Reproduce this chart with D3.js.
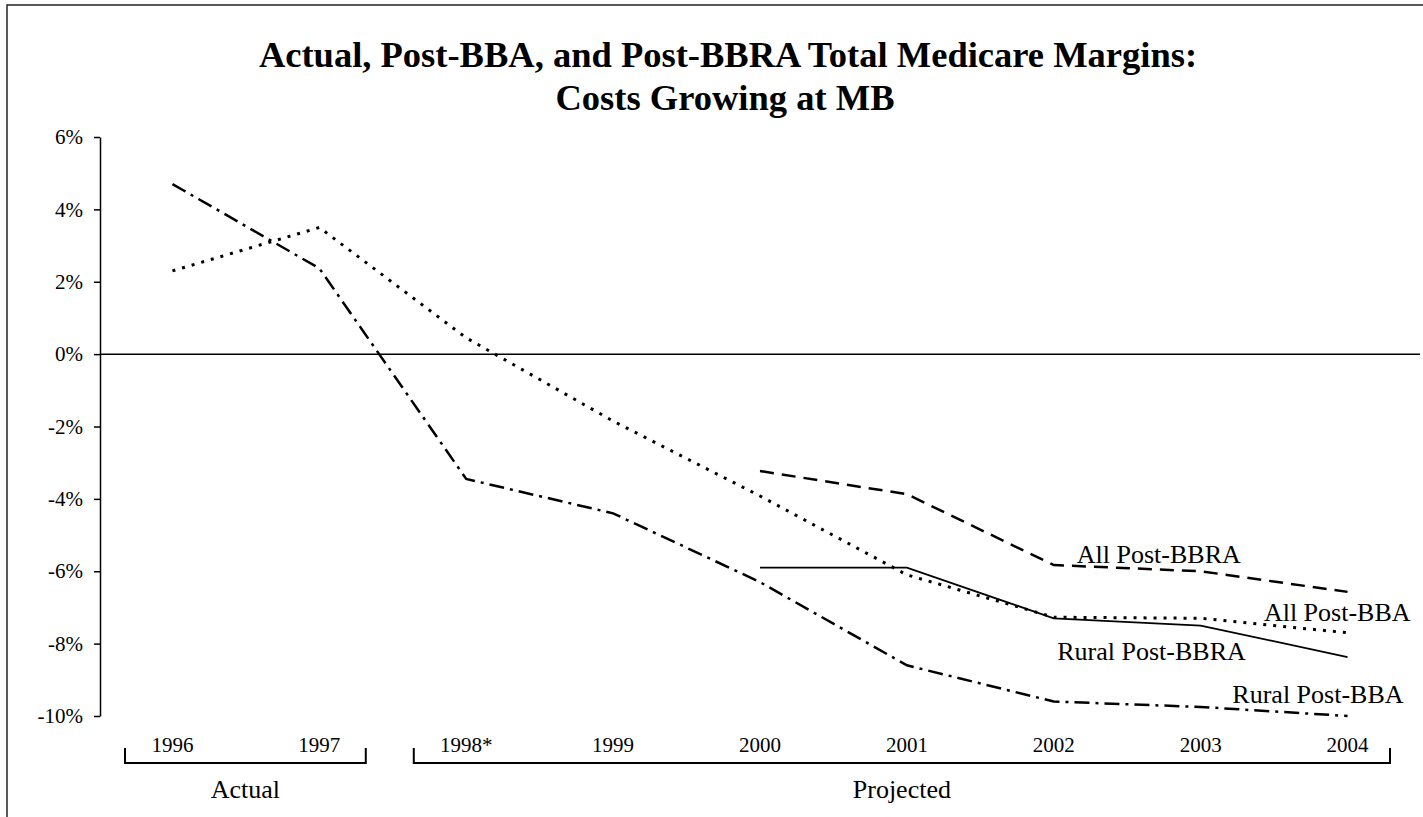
<!DOCTYPE html>
<html>
<head>
<meta charset="utf-8">
<script src="https://cdn.jsdelivr.net/npm/d3@7"></script>
<style>
  body { margin: 0; background: #fff; }
  svg { display: block; font-family: "Liberation Serif", "Times New Roman", serif; }
  .axis text { font-family: "Liberation Serif", "Times New Roman", serif; font-size: 21px; fill: #000; }
  .axis path, .axis line { stroke: #000; stroke-width: 1.5px; }
  .series { fill: none; stroke: #000; }
  .lbl { font-size: 26px; fill: #000; }
</style>
</head>
<body>
<svg id="chart" width="1423" height="817"></svg>
<script>
// years on the category axis
var years = ["1996", "1997", "1998*", "1999", "2000", "2001", "2002", "2003", "2004"];

// margins in percent
var ruralPostBBA  = [4.7, 2.37, -3.45, -4.4, -6.3, -8.6, -9.6, -9.75, -10.0];
var allPostBBA    = [2.3, 3.5, 0.45, -1.85, -3.92, -6.1, -7.27, -7.3, -7.7];
var allPostBBRA   = [null, null, null, null, -3.23, -3.87, -5.83, -6.0, -6.57];
var ruralPostBBRA = [null, null, null, null, -5.9, -5.9, -7.3, -7.5, -8.37];

var yTicks = [6, 4, 2, 0, -2, -4, -6, -8, -10];

var svg = d3.select("#chart");

// outer frame (right and bottom edges fall off the page)
svg.append("rect")
    .attr("x", 7).attr("y", 5)
    .attr("width", 1440).attr("height", 840)
    .attr("fill", "none").attr("stroke", "#222").attr("stroke-width", 1.5);

svg.append("text")
    .attr("x", 728).attr("y", 67)
    .attr("text-anchor", "middle")
    .style("font-size", "36.5px").style("font-weight", "bold")
    .text("Actual, Post-BBA, and Post-BBRA Total Medicare Margins:");
svg.append("text")
    .attr("x", 725).attr("y", 110)
    .attr("text-anchor", "middle")
    .style("font-size", "36.5px").style("font-weight", "bold")
    .text("Costs Growing at MB");

var x = d3.scaleBand().domain(years).range([99, 1421]);
var y = d3.scaleLinear().domain([-10, 6]).range([716, 137]);
var xc = function(d) { return x(d) + x.bandwidth() / 2; };

// y axis
svg.append("g")
    .attr("class", "axis")
    .attr("transform", "translate(100,0)")
    .call(d3.axisLeft(y).tickValues(yTicks).tickSize(6).tickSizeOuter(0).tickPadding(11)
      .tickFormat(function(d) { return d + "%"; }));

// zero line
svg.append("line")
    .attr("x1", 100).attr("x2", 1420)
    .attr("y1", y(0)).attr("y2", y(0))
    .attr("stroke", "#000").attr("stroke-width", 1.5);

// year labels
var xa = svg.append("g")
    .attr("class", "axis")
    .attr("transform", "translate(0,752)")
    .call(d3.axisBottom(x).tickSize(0));
xa.select(".domain").remove();
xa.selectAll("text").attr("y", 0).attr("dy", null);

// actual / projected brackets
var groups = [
  {label: "Actual", first: "1996", last: "1997", padL: 26, padR: 27},
  {label: "Projected", first: "1998*", last: "2004", padL: 21, padR: 31}
];
groups.forEach(function(g) {
  var x0 = x(g.first) + g.padL, x1 = x(g.last) + x.bandwidth() - g.padR;
  svg.append("path")
      .attr("d", "M" + x0 + ",748V763H" + x1 + "V748")
      .attr("fill", "none").attr("stroke", "#000").attr("stroke-width", 2);
  svg.append("text")
      .attr("class", "lbl")
      .attr("x", (x0 + x1) / 2).attr("y", 798)
      .attr("text-anchor", "middle")
      .text(g.label);
});

var line = d3.line()
    .defined(function(d) { return d != null; })
    .x(function(d, i) { return xc(years[i]); })
    .y(function(d) { return y(d); });

var series = [
  {values: ruralPostBBA, dash: "15,6,3,6", w: 2.5},
  {values: allPostBBA, dash: "3,7", w: 3},
  {values: allPostBBRA, dash: "14,8", w: 2.5},
  {values: ruralPostBBRA, dash: null, w: 1.8}
];

svg.selectAll(".series")
    .data(series)
  .enter().append("path")
    .attr("class", "series")
    .attr("d", function(d) { return line(d.values); })
    .attr("stroke-width", function(d) { return d.w; })
    .attr("stroke-dasharray", function(d) { return d.dash; });

// series labels
var labels = [
  {text: "All Post-BBRA", year: "2002", dx: 23, y: 563, anchor: "start"},
  {text: "All Post-BBA", year: "2004", dx: 63, y: 621, anchor: "end"},
  {text: "Rural Post-BBRA", year: "2002", dx: 192, y: 660, anchor: "end"},
  {text: "Rural Post-BBA", year: "2004", dx: 56, y: 703, anchor: "end"}
];
svg.selectAll(".lbl.series-name")
    .data(labels)
  .enter().append("text")
    .attr("class", "lbl series-name")
    .attr("x", function(d) { return xc(d.year) + d.dx; })
    .attr("y", function(d) { return d.y; })
    .attr("text-anchor", function(d) { return d.anchor; })
    .text(function(d) { return d.text; });
</script>
</body>
</html>
